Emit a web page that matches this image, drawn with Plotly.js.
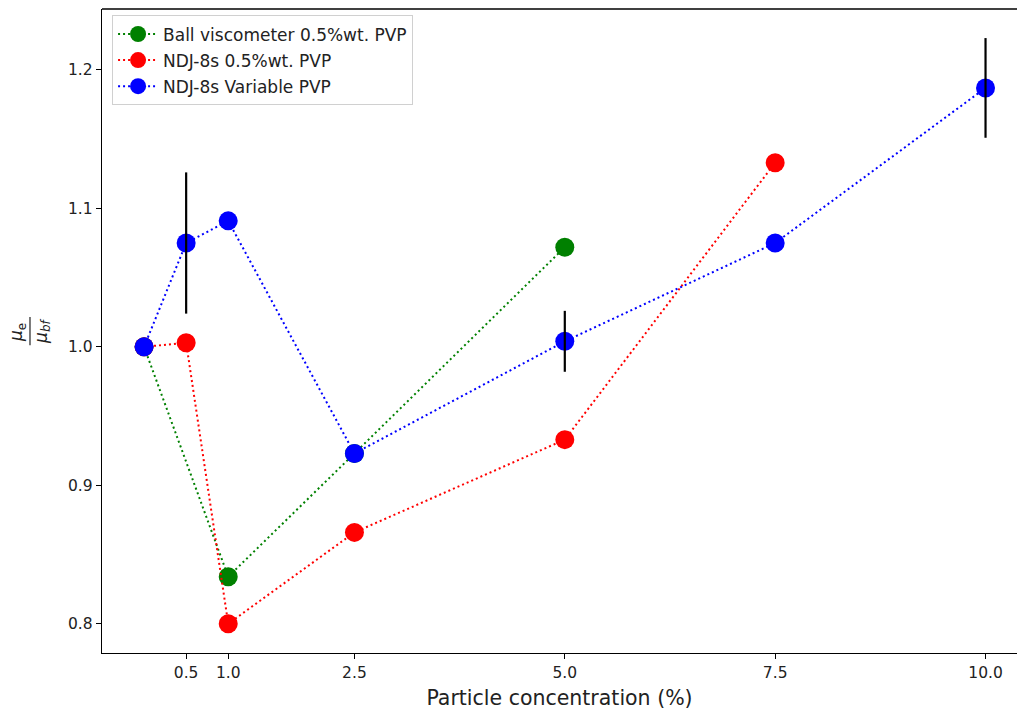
<!DOCTYPE html>
<html>
<head>
<meta charset="utf-8">
<script src="https://cdn.plot.ly/plotly-3.0.1.min.js"></script>
<style>html,body{margin:0;padding:0;background:#fff;}#chart{width:1017px;height:716px;}</style>
</head>
<body>
<div id="chart"></div>
<script>
// Data
const ballX = [0, 1, 2.5, 5];
const ballY = [1.0, 0.834, 0.923, 1.072];
const ndjX = [0, 0.5, 1, 2.5, 5, 7.5];
const ndjY = [1.0, 1.003, 0.800, 0.866, 0.933, 1.133];
const varX = [0, 0.5, 1, 2.5, 5, 7.5, 10];
const varY = [1.0, 1.075, 1.091, 0.923, 1.004, 1.075, 1.187];
const errX = [0.5, 5, 10];
const errY = [1.075, 1.004, 1.187];
const errVal = [0.051, 0.022, 0.036];
const xTickVals = [0.5, 1, 2.5, 5, 7.5, 10];
const xTickText = ["0.5", "1.0", "2.5", "5.0", "7.5", "10.0"];
const yTickVals = [0.8, 0.9, 1.0, 1.1, 1.2];
const yTickText = ["0.8", "0.9", "1.0", "1.1", "1.2"];

function series(x, y, name, color, grp) {
  return {
    x: x, y: y, name: name, type: 'scatter', mode: 'lines+markers', legendgroup: grp,
    line: {color: color, dash: '2px,3px', width: 2},
    marker: {color: color, size: 19}
  };
}

const traces = [
  series(ballX, ballY, 'Ball viscometer 0.5%wt. PVP', '#008000', 'a'),
  series(ndjX, ndjY, 'NDJ-8s 0.5%wt. PVP', '#ff0000', 'b'),
  series(varX, varY, 'NDJ-8s Variable PVP', '#0000ff', 'c'),
  {
    x: errX, y: errY, type: 'scatter', mode: 'markers', showlegend: false,
    marker: {color: 'rgba(0,0,0,0)', size: 1},
    error_y: {type: 'data', array: errVal, visible: true, color: '#000', thickness: 2.2, width: 0},
    hoverinfo: 'skip'
  }
];

const font = {family: 'DejaVu Sans, sans-serif', color: '#222'};

const layout = {
  width: 1017, height: 716,
  margin: {l: 102, r: 0, t: 9, b: 63},
  paper_bgcolor: '#fff', plot_bgcolor: '#fff',
  font: Object.assign({size: 15}, font),
  showlegend: true,
  legend: {
    x: 0.011, y: 0.99, xanchor: 'left', yanchor: 'top',
    bgcolor: 'rgba(255,255,255,0.9)', bordercolor: '#d0d0d0', borderwidth: 1,
    font: Object.assign({size: 17}, font),
    tracegroupgap: 1, itemwidth: 40
  },
  xaxis: {
    range: [-0.5, 10.374], tickvals: xTickVals, ticktext: xTickText,
    showgrid: false, zeroline: false, showline: true, linecolor: '#000', linewidth: 1.3,
    ticks: 'outside', ticklen: 5, tickcolor: '#000', tickfont: Object.assign({size: 15.5}, font),
    title: {text: 'Particle concentration (%)', font: Object.assign({size: 20.5}, font), standoff: 9}
  },
  yaxis: {
    range: [0.7789, 1.2440], tickvals: yTickVals, ticktext: yTickText,
    showgrid: false, zeroline: false, showline: true, linecolor: '#000', linewidth: 1.3,
    ticks: 'outside', ticklen: 5, tickcolor: '#000', tickfont: Object.assign({size: 15.5}, font)
  },
  shapes: [
    {type: 'line', xref: 'paper', yref: 'paper', x0: 0, x1: 1, y0: 1, y1: 1, line: {color: '#000', width: 1.3}},
    {type: 'line', xref: 'paper', yref: 'paper', x0: -0.0787, x1: -0.0787, y0: 0.478, y1: 0.5217, line: {color: '#222', width: 1.2}}
  ],
  annotations: [
    {xref: 'paper', yref: 'paper', x: -0.0917, y: 0.497, xanchor: 'center', yanchor: 'middle', text: '<i>μ</i><sub>e</sub>', showarrow: false, textangle: -90, font: Object.assign({size: 17}, font)},
    {xref: 'paper', yref: 'paper', x: -0.0657, y: 0.5, xanchor: 'center', yanchor: 'middle', text: '<i>μ</i><sub><i>bf</i></sub>', showarrow: false, textangle: -90, font: Object.assign({size: 17}, font)}
  ]
};

Plotly.newPlot('chart', traces, layout, {displayModeBar: false, staticPlot: true});
</script>
</body>
</html>
